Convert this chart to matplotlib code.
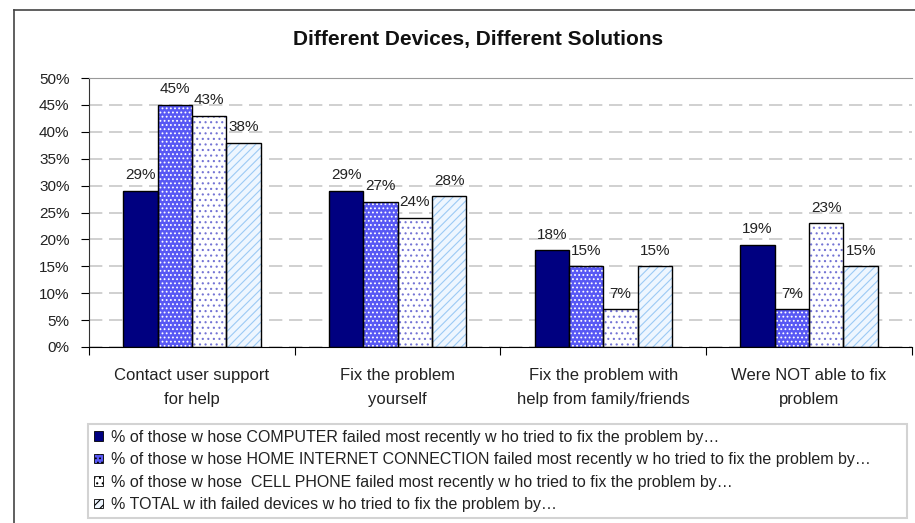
import matplotlib
matplotlib.use("Agg")
import matplotlib.pyplot as plt
from matplotlib.patches import Patch
from matplotlib.lines import Line2D
import numpy as np

plt.rcParams['font.family'] = ['Liberation Sans', 'DejaVu Sans']

categories = ["Contact user support\nfor help", "Fix the problem\nyourself",
              "Fix the problem with\nhelp from family/friends", "Were NOT able to fix\nproblem"]
computer = [29, 29, 18, 19]
internet = [45, 27, 15, 7]
cell = [43, 24, 7, 23]
total = [38, 28, 15, 15]
series_labels = [
    "% of those w hose COMPUTER failed most recently w ho tried to fix the problem by\u2026",
    "% of those w hose HOME INTERNET CONNECTION failed most recently w ho tried to fix the problem by\u2026",
    "% of those w hose  CELL PHONE failed most recently w ho tried to fix the problem by\u2026",
    "% TOTAL w ith failed devices w ho tried to fix the problem by\u2026",
]
yticks = [0, 5, 10, 15, 20, 25, 30, 35, 40, 45, 50]

# face colour, hatch, hatch colour
styles = [
    ("#000080", None, None),
    ("#5858f4", "....", "white"),
    ("white", "...", "#7474d4"),
    ("#eef6ff", "////", "#9ccaf5"),
]

plt.rcParams['hatch.linewidth'] = 0.8

fig = plt.figure(figsize=(9.15, 5.23), dpi=100)
ax = fig.add_axes([89 / 915, 1 - 347 / 523, 823 / 915, 269 / 523])

x = np.arange(len(categories))
w = 0.167
data = [computer, internet, cell, total]
for i, (vals, (fc, hatch, hc)) in enumerate(zip(data, styles)):
    pos = x + (i - 1.5) * w
    if hatch:
        ax.bar(pos, vals, w, color=fc, hatch=hatch, edgecolor=hc, linewidth=0, zorder=2)
    else:
        ax.bar(pos, vals, w, color=fc, linewidth=0, zorder=2)
    ax.bar(pos, vals, w, fill=False, edgecolor="black", linewidth=1.0, zorder=3)
    for p, v in zip(pos, vals):
        ax.text(p, v + 1.6, f"{v}%", ha="center", va="bottom", fontsize=11, color="#222222", zorder=4)

ax.set_xlim(-0.5, 3.5)
ax.set_ylim(0, 50)
ax.set_yticks(yticks)
ax.set_yticklabels([f"{t}%" for t in yticks], fontsize=11, color="#222222")
ax.yaxis.grid(True, color="#c8c8c8", linestyle=(0, (8, 4)), linewidth=1.2, zorder=0)
ax.set_axisbelow(True)
ax.set_xticks(np.arange(-0.5, 4, 1))
ax.set_xticklabels([])
ax.set_xticks(x, minor=True)
ax.set_xticklabels(categories, minor=True, fontsize=12, linespacing=1.75, color="#222222")
ax.tick_params(axis="x", which="minor", length=0, pad=15)
ax.tick_params(axis="x", which="major", length=6, direction="out")
ax.tick_params(axis="y", length=6, pad=8)
ax.spines["top"].set_color("#999999")
ax.spines["right"].set_visible(False)
ax.spines["left"].set_color("#333333")

fig.text(0.522, 1 - 40 / 523, "Different Devices, Different Solutions",
         ha="center", va="center", fontsize=15, fontweight="bold", color="#111111")

# outer chart frame
fig.add_artist(Line2D([14 / 915, 14 / 915], [0, 1 - 10 / 523], color="#444444", lw=1.2))
fig.add_artist(Line2D([14 / 915, 1], [1 - 10 / 523, 1 - 10 / 523], color="#444444", lw=1.2))

handles = []
for fc, hatch, hc in styles:
    handles.append(Patch(facecolor=fc, hatch=hatch, edgecolor="black", linewidth=0.6))
leg = fig.legend(handles, series_labels, loc="upper left",
                 bbox_to_anchor=(88 / 915, 1 - 424 / 523, 819 / 915, 0), mode="expand",
                 borderaxespad=0, prop={"size": 11.5},
                 handlelength=0.55, handleheight=0.55, handletextpad=0.5,
                 labelspacing=0.47, borderpad=0.36, fancybox=False, frameon=True)
leg.get_frame().set_edgecolor("#c8c8c8")
leg.get_frame().set_linewidth(1.5)
for t in leg.get_texts():
    t.set_color("#222222")

fig.savefig("out.png", dpi=100)
